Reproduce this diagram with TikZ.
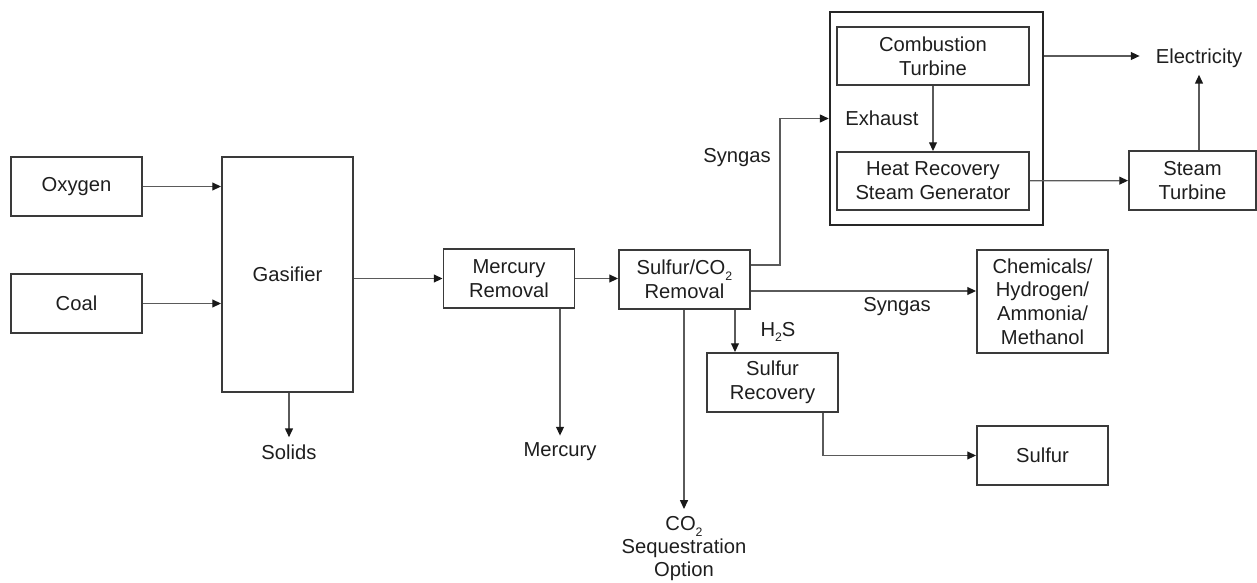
\documentclass[tikz,border=0pt]{standalone}
\usepackage{fontspec}
\setmainfont{Liberation Sans}
\usetikzlibrary{arrows.meta}
\definecolor{bordo}{HTML}{3A3A3A}
\definecolor{linea}{HTML}{5A5A5A}
\definecolor{testo}{HTML}{1E1E1E}
\newcommand{\pedice}[1]{\raisebox{-0.55ex}{\fontsize{7}{7}\selectfont #1}}
\tikzset{
  blocco/.style  = {rectangle, draw=bordo, line width=1.1pt, minimum width=2.62cm, minimum height=1.18cm, align=center, inner sep=1pt, font=\fontsize{11.5}{13.5}\selectfont, text=testo},
  cornice/.style = {rectangle, draw=black!85, line width=1.5pt, minimum width=4.26cm, minimum height=4.26cm},
  flusso/.style  = {draw=linea, line width=0.7pt, -{Triangle[length=5pt,width=4.5pt,color=black!90]}},
  et/.style      = {align=center, inner sep=4pt, font=\fontsize{11.5}{13}\selectfont, text=testo}
}

\begin{document}
\begin{tikzpicture}[x=0.02cm, y=-0.02cm]
  \useasboundingbox (0,0) rectangle (1257,582);

  % blocchi
  \node[blocco] (ox)   at (76.5,186.5) {Oxygen};
  \node[blocco] (coal) at (76.5,303.5) {Coal};
  \node[blocco, minimum height=4.7cm] (gas) at (287.5,274.5) {Gasifier};
  \node[blocco] (hgrem) at (509,278.5)  {Mercury\\Removal};
  \node[blocco] (sco)   at (684.5,279.5) {Sulfur/CO\pedice{2}\\Removal};
  \node[blocco] (srec)  at (772.5,382.5) {Sulfur\\Recovery};
  \node[blocco, minimum height=2.06cm] (chem) at (1042.5,301.5) {Chemicals/\\Hydrogen/\\Ammonia/\\Methanol};
  \node[blocco] (sulfur) at (1042.5,455.5) {Sulfur};
  \node[cornice] (power) at (936.5,118.5) {};
  \node[blocco, minimum width=3.84cm, minimum height=1.16cm] (ct)   at (933,56)  {Combustion\\Turbine};
  \node[blocco, minimum width=3.84cm, minimum height=1.16cm] (hrsg) at (933,181) {Heat Recovery\\Steam Generator};
  \node[blocco, minimum width=2.54cm] (st) at (1192.5,180.5) {Steam\\Turbine};

  % etichette
  \node[et] (solids) at (289,452) {Solids};
  \node[et] (hg)     at (560,452) {Mercury};
  \node[et, anchor=north] (co2) at (684,509) {CO\pedice{2}\\Sequestration\\Option};
  \node[et] (sg1)    at (737,158) {Syngas};
  \node[et, anchor=west] (exh) at (838,118) {Exhaust};
  \node[et] (sg2)    at (897,307) {Syngas};
  \node[et] (h2s)    at (778,332) {H\pedice{2}S};
  \node[et] (elec)   at (1199,58) {Electricity};

  % flussi
  \draw[flusso] (ox) -- (ox -| gas.west);
  \draw[flusso] (coal) -- (coal -| gas.west);
  \draw[flusso] (gas.east |- hgrem) -- (hgrem);
  \draw[flusso] (gas.south -| solids) -- (solids);
  \draw[flusso] (hgrem) -- (hgrem -| sco.west);
  \draw[flusso] (hgrem.south -| hg) -- (hg);

  \coordinate (sgsu)   at ([yshift=0.29cm]sco.east);
  \coordinate (gomito) at (780,118.5);
  \draw[flusso] (sgsu) -| (gomito) -- (power.west);
  \coordinate (sggiu)  at ([yshift=-0.23cm]sco.east);
  \draw[flusso] (sggiu) -- (sggiu -| chem.west);
  \coordinate (h2sx)   at ([xshift=1.01cm]sco.south);
  \draw[flusso] (h2sx) -- (h2sx |- srec.north);
  \draw[flusso] (sco.south -| co2.north) -- (co2.north);
  \coordinate (srx)    at ([xshift=1.01cm]srec.south);
  \draw[flusso] (srx) |- (sulfur.west);

  \draw[flusso] (ct) -- (hrsg);
  \draw[flusso, shorten >=5pt] (ct -| power.east) -- (ct -| elec.west);
  \draw[flusso] (hrsg) -- (st);
  \draw[flusso] (st.north -| elec) -- (elec);

\end{tikzpicture}
\end{document}
